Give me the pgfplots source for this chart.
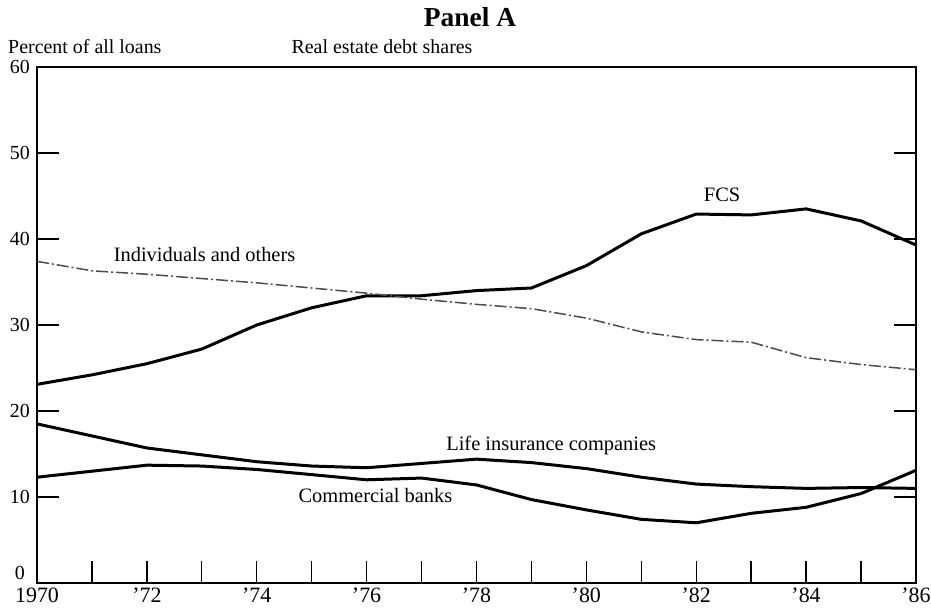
\documentclass[border=0pt]{standalone}
\usepackage{pgfplots}
\pgfplotsset{compat=1.18}
\usepackage{fontspec}
\setmainfont{Liberation Serif}
\begin{document}
\begin{tikzpicture}[x=1bp,y=1bp]
\useasboundingbox (0,0) rectangle (931,612);
\begin{axis}[
  at={(37bp,29bp)}, anchor=south west,
  scale only axis, width=879bp, height=516bp,
  xmin=1970, xmax=1986, ymin=0, ymax=60,
  xtick={1970,...,1986},
  xticklabels={1970,,'72,,'74,,'76,,'78,,'80,,'82,,'84,,'86},
  ytick={0,10,...,60},
  yticklabels={,10,20,30,40,50,60},
  xtick pos=bottom, ytick pos=both,
  tick align=inside,
  major tick length=22bp,
  every tick/.style={black, line width=1.3bp},
  axis line style={line width=1.4bp},
  xticklabel style={font=\fontsize{22}{24}\selectfont, inner sep=0pt, yshift=-5bp},
  yticklabel style={font=\fontsize{20}{22}\selectfont, inner sep=0pt, xshift=-7bp},
  /pgf/number format/assume math mode=true,
  clip=false,
]
% Farm Credit System
\addplot[black, line width=3bp, line join=round] coordinates {
(1970,23.1) (1971,24.2) (1972,25.5) (1973,27.2) (1974,30.0) (1975,32.0)
(1976,33.4) (1977,33.4) (1978,34.0) (1979,34.3) (1980,36.9) (1981,40.6)
(1982,42.9) (1983,42.8) (1984,43.5) (1985,42.1) (1986,39.3)};
% Individuals and others
\addplot[black!70, line width=1.5bp, dash pattern=on 12bp off 3bp on 2bp off 3bp] coordinates {
(1970,37.4) (1971,36.3) (1972,35.9) (1973,35.4) (1974,34.9) (1975,34.3)
(1976,33.7) (1977,33.0) (1978,32.4) (1979,31.9) (1980,30.8) (1981,29.2)
(1982,28.3) (1983,28.0) (1984,26.2) (1985,25.4) (1986,24.8)};
% Life insurance companies
\addplot[black, line width=3bp, line join=round] coordinates {
(1970,18.5) (1971,17.1) (1972,15.7) (1973,14.9) (1974,14.1) (1975,13.6)
(1976,13.4) (1977,13.9) (1978,14.4) (1979,14.0) (1980,13.3) (1981,12.3)
(1982,11.5) (1983,11.2) (1984,11.0) (1985,11.1) (1986,11.0)};
% Commercial banks
\addplot[black, line width=3bp, line join=round] coordinates {
(1970,12.3) (1971,13.0) (1972,13.7) (1973,13.6) (1974,13.2) (1975,12.6)
(1976,12.0) (1977,12.2) (1978,11.4) (1979,9.7) (1980,8.5) (1981,7.4)
(1982,7.0) (1983,8.1) (1984,8.8) (1985,10.4) (1986,13.1)};
\node[font=\fontsize{20.5}{22}\selectfont] at (axis cs:1982.47,45.1) {FCS};
\node[font=\fontsize{20.5}{22}\selectfont] at (axis cs:1973.05,38.2) {Individuals and others};
\node[font=\fontsize{20.5}{22}\selectfont] at (axis cs:1979.36,16.0) {Life insurance companies};
\node[font=\fontsize{20.5}{22}\selectfont] at (axis cs:1976.16,10.2) {Commercial banks};
\node[font=\fontsize{20}{22}\selectfont, anchor=south east, inner sep=0pt, xshift=-12bp, yshift=3bp] at (axis cs:1970,0) {0};
\end{axis}
\node[font=\fontsize{27.5}{30}\selectfont\bfseries] at (470,595) {Panel A};
\node[font=\fontsize{20}{22}\selectfont, anchor=west, inner sep=0pt] at (8,565) {Percent of all loans};
\node[font=\fontsize{20}{22}\selectfont] at (382,565) {Real estate debt shares};
\end{tikzpicture}
\end{document}
